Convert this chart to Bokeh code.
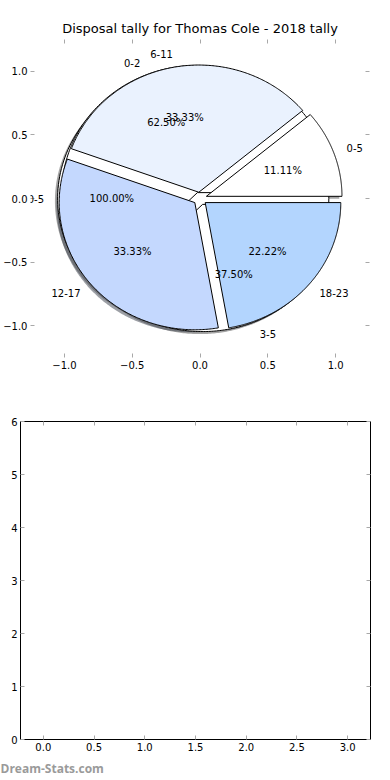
import numpy as np
from bokeh.plotting import figure
from bokeh.models import (Range1d, FixedTicker, LinearAxis, Title, ColumnDataSource,
                          LabelSet, CustomLabelingPolicy)
from bokeh.core.properties import value
from bokeh.embed import file_html
from bokeh.resources import INLINE

# ---------------- data ----------------
title_text = "Disposal tally for Thomas Cole - 2018 tally"
watermark = "Dream-Stats.com"

labels_a = ["0-5", "6-11", "12-17", "18-23"]
counts_a = [1, 3, 3, 2]
labels_b = ["0-2", "3-5"]
counts_b = [5, 3]
labels_c = ["0-5"]
counts_c = [1]

pie_ticks = [-1.0, -0.5, 0.0, 0.5, 1.0]
bottom_xticks = [0.0, 0.5, 1.0, 1.5, 2.0, 2.5, 3.0]
bottom_yticks = [0, 1, 2, 3, 4, 5, 6]

# ---------------- styles ----------------
colors_a = ["#ffffff", "#eaf2fe", "#c4d8fe", "#b3d5fe"]
colors_b = ["#ffffff", "#ffffff"]
colors_c = ["#ffffff"]
EXPLODE = 0.05
FONT = "DejaVu Sans"
TICK_COLOR = "#a8a8a8"
W, H1, H2 = 390, 390, 390


def pie_geometry(counts, colors):
    total = float(sum(counts))
    t1 = 0.0
    wedges = dict(xs=[], ys=[], sxs=[], sys=[], fill=[], shadow=[])
    labs = dict(x=[], y=[], right=[])
    pcts = dict(x=[], y=[], text=[])
    for c, col in zip(counts, colors):
        frac = c / total
        t2 = t1 + 360.0 * frac
        mid = np.radians((t1 + t2) / 2.0)
        dx, dy = EXPLODE * np.cos(mid), EXPLODE * np.sin(mid)
        ang = np.radians(np.linspace(t1, t2, 200))
        if frac >= 0.9999:
            x = np.cos(ang) + dx
            y = np.sin(ang) + dy
        else:
            x = np.concatenate([[dx], np.cos(ang) + dx, [dx]])
            y = np.concatenate([[dy], np.sin(ang) + dy, [dy]])
        wedges["xs"].append(list(x))
        wedges["ys"].append(list(y))
        wedges["sxs"].append(list(x - 0.02))
        wedges["sys"].append(list(y - 0.02))
        wedges["fill"].append(col)
        r, g, b = [int(col[i:i + 2], 16) for i in (1, 3, 5)]
        wedges["shadow"].append("#%02x%02x%02x" % (int(r * 0.3), int(g * 0.3), int(b * 0.3)))
        lx = 1.1 * np.cos(mid) + dx
        ly = 1.1 * np.sin(mid) + dy
        labs["x"].append(lx)
        labs["y"].append(ly)
        labs["right"].append(lx < 0)
        pcts["x"].append(0.6 * np.cos(mid) + dx)
        pcts["y"].append(0.6 * np.sin(mid) + dy)
        pcts["text"].append("%.2f%%" % (frac * 100))
        t1 = t2
    return wedges, labs, pcts


def style_ticks(ax):
    ax.axis_line_color = None
    ax.major_tick_in = 4
    ax.major_tick_out = 0
    ax.minor_tick_line_color = None
    ax.major_tick_line_color = TICK_COLOR
    ax.major_label_text_font = FONT
    ax.major_label_text_font_size = "10px"
    ax.major_label_text_color = "#000000"


def tick_only_axis(ticks):
    ax = LinearAxis(ticker=FixedTicker(ticks=ticks))
    style_ticks(ax)
    ax.major_label_text_font_size = "1px"
    ax.major_label_standoff = 0
    ax.major_label_policy = CustomLabelingPolicy(code="for (const i of indices) indices.unset(i)")
    return ax


def fmt_minus(v, nd=1):
    s = ("%." + str(nd) + "f") % v
    return s.replace("-", "\u2212")


# ---------------- top figure: pie ----------------
p1 = figure(width=W, height=H1, x_range=Range1d(-1.25, 1.25), y_range=Range1d(-1.25, 1.25),
            output_backend="svg", toolbar_location=None, title=title_text,
            min_border_left=20, min_border_right=21, min_border_top=39,
            min_border_bottom=H1 - 357)
p1.title.text_font = FONT
p1.title.text_font_size = "13px"
p1.title.text_font_style = "normal"
p1.title.align = "center"
p1.title.text_color = "#000000"
p1.title.standoff = 0
p1.outline_line_color = None
p1.grid.visible = False

pies = [(counts_c, colors_c, labels_c), (counts_b, colors_b, labels_b), (counts_a, colors_a, labels_a)]
geoms = [pie_geometry(c, col) for c, col, _ in pies]

# shadows first (below all wedges)
for w, _, _ in geoms:
    src = ColumnDataSource(dict(xs=w["sxs"], ys=w["sys"], fill=w["shadow"]))
    p1.patches("xs", "ys", source=src, fill_color="fill", fill_alpha=0.5, line_color=None)

for (w, labs, pcts) in geoms:
    src = ColumnDataSource(dict(xs=w["xs"], ys=w["ys"], fill=w["fill"]))
    p1.patches("xs", "ys", source=src, fill_color="fill", line_color="#000000", line_width=1)

for (w, labs, pcts), (_, _, names) in zip(geoms, pies):
    for right in (True, False):
        idx = [i for i, r in enumerate(labs["right"]) if r == right]
        if not idx:
            continue
        src = ColumnDataSource(dict(x=[labs["x"][i] for i in idx], y=[labs["y"][i] for i in idx],
                                    text=[names[i] for i in idx]))
        p1.add_layout(LabelSet(x="x", y="y", text="text", source=src,
                               text_align="right" if right else "left",
                               text_baseline="middle", text_font=value(FONT),
                               text_font_size="10px", text_color="#000000"))
    p1.text(x=pcts["x"], y=pcts["y"], text=pcts["text"], text_align="center",
            text_baseline="middle", text_font=value(FONT), text_font_size="10px",
            text_color="#000000")

for ax in (p1.xaxis[0], p1.yaxis[0]):
    ax.ticker = FixedTicker(ticks=pie_ticks)
    ax.major_label_overrides = {t: fmt_minus(t) for t in pie_ticks}
    style_ticks(ax)
    ax.major_label_standoff = 3
p1.add_layout(tick_only_axis(pie_ticks), "above")
p1.add_layout(tick_only_axis(pie_ticks), "right")

# ---------------- bottom figure: empty axes ----------------
p2 = figure(width=W, height=H2, x_range=Range1d(-0.225, 3.225), y_range=Range1d(0, 6),
            output_backend="svg", toolbar_location=None,
            min_border_left=20, min_border_right=20, min_border_top=421 - H1,
            min_border_bottom=H1 + H2 - 740)
p2.outline_line_color = "#000000"
p2.outline_line_width = 1
p2.grid.visible = False
p2.xaxis[0].ticker = FixedTicker(ticks=bottom_xticks)
p2.xaxis[0].major_label_overrides = {t: fmt_minus(t) for t in bottom_xticks}
p2.yaxis[0].ticker = FixedTicker(ticks=bottom_yticks)
for ax in (p2.xaxis[0], p2.yaxis[0]):
    style_ticks(ax)
    ax.major_label_standoff = 3
p2.add_layout(tick_only_axis(bottom_xticks), "above")
p2.add_layout(tick_only_axis(bottom_yticks), "right")

wm = Title(text=watermark, align="left", text_font="Open Sans", text_font_size="12px",
           text_font_style="bold", text_color="#9a9a9a", offset=-20, standoff=8)
p2.add_layout(wm, "below")

open("out.html", "w").write(file_html([p1, p2], INLINE))
